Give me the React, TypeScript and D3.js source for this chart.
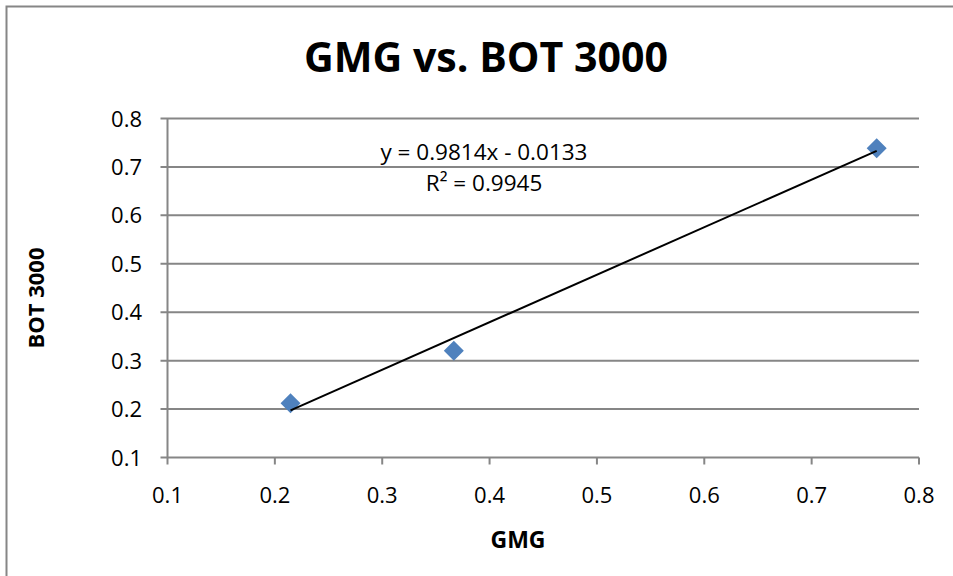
import React, { useEffect, useRef } from "react";
import * as d3 from "d3";

// Paired measurements: GMG (x) against BOT 3000 (y)
const gmgValues = [0.2146, 0.3667, 0.7606];
const botValues = [0.212, 0.3205, 0.7385];

// Linear trendline coefficients as reported in the label
const trendSlope = 0.9814;
const trendIntercept = -0.0133;
const trendR2 = 0.9945;

const xTicks = [0.1, 0.2, 0.3, 0.4, 0.5, 0.6, 0.7, 0.8];
const yTicks = [0.1, 0.2, 0.3, 0.4, 0.5, 0.6, 0.7, 0.8];

const titleText = "GMG vs. BOT 3000";
const xTitle = "GMG";
const yTitle = "BOT 3000";

const W = 953;
const H = 576;
const FONT = "'Open Sans', 'Liberation Sans', sans-serif";
const GRID = "#868686";

export default function App() {
  const ref = useRef<SVGSVGElement | null>(null);

  useEffect(() => {
    const svg = d3.select(ref.current);
    svg.selectAll("*").remove();

    const left = 167.5;
    const right = 919;
    const top = 118.5;
    const bottom = 457.5;

    const x = d3.scaleLinear().domain([0.1, 0.8]).range([left, right]);
    const y = d3.scaleLinear().domain([0.1, 0.8]).range([bottom, top]);

    svg.append("rect").attr("width", W).attr("height", H).attr("fill", "#fff");

    // chart border
    svg
      .append("rect")
      .attr("x", 6.5)
      .attr("y", 6.5)
      .attr("width", W + 20)
      .attr("height", H + 20)
      .attr("fill", "none")
      .attr("stroke", GRID)
      .attr("stroke-width", 2);

    // title
    svg
      .append("text")
      .attr("x", 486)
      .attr("y", 72)
      .attr("text-anchor", "middle")
      .attr("font-family", FONT)
      .attr("font-weight", "bold")
      .attr("font-size", 41)
      .attr("textLength", 364)
      .attr("lengthAdjust", "spacingAndGlyphs")
      .attr("fill", "#000")
      .text(titleText);

    // horizontal gridlines (extend left as tick marks)
    const g = svg.append("g");
    g.selectAll("line.grid")
      .data(yTicks)
      .join("line")
      .attr("x1", left - 7)
      .attr("x2", right)
      .attr("y1", (d) => y(d))
      .attr("y2", (d) => y(d))
      .attr("stroke", GRID)
      .attr("stroke-width", 2);

    // y axis line
    g.append("line")
      .attr("x1", left)
      .attr("x2", left)
      .attr("y1", top)
      .attr("y2", bottom)
      .attr("stroke", GRID)
      .attr("stroke-width", 2);

    // x ticks
    g.selectAll("line.xt")
      .data(xTicks)
      .join("line")
      .attr("x1", (d) => x(d))
      .attr("x2", (d) => x(d))
      .attr("y1", bottom)
      .attr("y2", bottom + 7)
      .attr("stroke", GRID)
      .attr("stroke-width", 2);

    // y tick labels
    g.selectAll("text.yl")
      .data(yTicks)
      .join("text")
      .attr("x", 142)
      .attr("y", (d) => y(d) + 8)
      .attr("text-anchor", "end")
      .attr("font-family", FONT)
      .attr("font-size", 22)
      .attr("fill", "#000")
      .text((d) => d3.format(".1f")(d));

    // x tick labels
    g.selectAll("text.xl")
      .data(xTicks)
      .join("text")
      .attr("x", (d) => x(d))
      .attr("y", 503)
      .attr("text-anchor", "middle")
      .attr("font-family", FONT)
      .attr("font-size", 22)
      .attr("fill", "#000")
      .text((d) => d3.format(".1f")(d));

    // axis titles
    svg
      .append("text")
      .attr("x", 518)
      .attr("y", 548)
      .attr("text-anchor", "middle")
      .attr("font-family", FONT)
      .attr("font-weight", "bold")
      .attr("font-size", 23)
      .attr("fill", "#000")
      .text(xTitle);

    svg
      .append("text")
      .attr("transform", `translate(44, 298) rotate(-90)`)
      .attr("text-anchor", "middle")
      .attr("font-family", FONT)
      .attr("font-weight", "bold")
      .attr("font-size", 22)
      .attr("fill", "#000")
      .text(yTitle);

    // markers
    const pts = gmgValues.map((v, i) => [v, botValues[i]] as [number, number]);
    const sym = d3.symbol().type(d3.symbolSquare).size(200);
    svg
      .append("g")
      .selectAll("path")
      .data(pts)
      .join("path")
      .attr("d", sym)
      .attr("transform", (d) => `translate(${x(d[0])},${y(d[1])}) rotate(45)`)
      .attr("fill", "#4F81BD");

    // trendline from the reported coefficients, over the data range
    const [xmin, xmax] = d3.extent(gmgValues) as [number, number];
    const line = d3
      .line<number>()
      .x((d) => x(d))
      .y((d) => y(trendSlope * d + trendIntercept));
    svg
      .append("path")
      .attr("d", line([xmin, xmax]))
      .attr("fill", "none")
      .attr("stroke", "#000")
      .attr("stroke-width", 2);

    // trendline equation
    const eq = svg
      .append("text")
      .attr("font-family", FONT)
      .attr("font-size", 22.5)
      .attr("fill", "#000")
      .attr("text-anchor", "middle");
    eq.append("tspan")
      .attr("x", 484)
      .attr("y", 160)
      .text(`y = ${trendSlope}x - ${Math.abs(trendIntercept)}`);
    eq.append("tspan")
      .attr("x", 484)
      .attr("y", 191)
      .text(`R² = ${trendR2}`);
  }, []);

  return (
    <svg
      ref={ref}
      width={W}
      height={H}
      style={{ position: "absolute", left: 0, top: 0, display: "block" }}
    />
  );
}
